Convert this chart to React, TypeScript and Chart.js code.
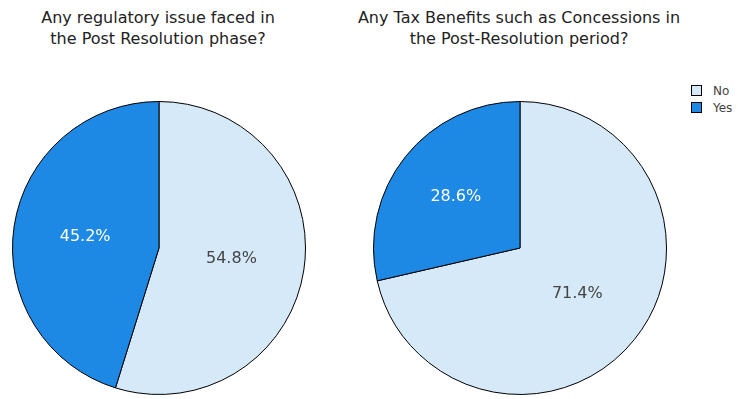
import React, { useEffect, useRef } from "react";
import { Chart, registerables } from "chart.js";

Chart.register(...registerables);

const categories = ["No", "Yes"];
const regulatoryValues = [54.8, 45.2];
const taxValues = [71.4, 28.6];
const titleRegulatory = ["Any regulatory issue faced in", "the Post Resolution phase?"];
const titleTax = ["Any Tax Benefits such as Concessions in", "the Post-Resolution period?"];

const sliceColors = ["#d6e9f8", "#1e88e5"];
const labelColors = ["#444444", "#ffffff"];
const FONT = "'DejaVu Sans', Verdana, sans-serif";

const percentLabels = {
  id: "percentLabels",
  afterDatasetsDraw(chart: any, _args: any, opts: any) {
    const ctx = chart.ctx;
    const meta = chart.getDatasetMeta(0);
    const data = chart.data.datasets[0].data as number[];
    const total = data.reduce((a, b) => a + b, 0);
    const factors: number[] = opts.factors || [];
    ctx.save();
    ctx.font = `16px ${FONT}`;
    ctx.textAlign = "center";
    ctx.textBaseline = "middle";
    meta.data.forEach((arc: any, i: number) => {
      const p = arc.getProps(["x", "y", "startAngle", "endAngle", "outerRadius"], true);
      const mid = (p.startAngle + p.endAngle) / 2;
      const r = p.outerRadius * (factors[i] ?? 0.5);
      const x = p.x + Math.cos(mid) * r;
      const y = p.y + Math.sin(mid) * r;
      ctx.fillStyle = labelColors[i];
      ctx.fillText(((data[i] / total) * 100).toFixed(1) + "%", x, y);
    });
    ctx.restore();
  },
};

function PieChart(props: { values: number[]; factors: number[]; left: number }) {
  const ref = useRef<HTMLCanvasElement | null>(null);
  useEffect(() => {
    if (!ref.current) return;
    const chart = new Chart(ref.current, {
      type: "pie",
      data: {
        labels: categories,
        datasets: [
          {
            data: props.values,
            backgroundColor: sliceColors,
            borderColor: "#000000",
            borderWidth: 1,
          },
        ],
      },
      options: {
        responsive: false,
        animation: false,
        layout: { padding: 2 },
        plugins: {
          legend: { display: false },
          tooltip: { enabled: false },
          percentLabels: { factors: props.factors },
        } as any,
      },
      plugins: [percentLabels],
    });
    return () => chart.destroy();
  }, []);
  return (
    <canvas
      ref={ref}
      width={298}
      height={298}
      style={{ position: "absolute", left: props.left, top: 99, width: 298, height: 298 }}
    />
  );
}

function Title(props: { lines: string[]; center: number }) {
  return (
    <div
      style={{
        position: "absolute",
        left: props.center - 200,
        width: 400,
        top: 7,
        textAlign: "center",
        fontFamily: FONT,
        fontSize: 16,
        lineHeight: "21px",
        color: "#222",
        whiteSpace: "nowrap",
      }}
    >
      {props.lines.map((l, i) => (
        <div key={i}>{l}</div>
      ))}
    </div>
  );
}

export default function App() {
  return (
    <div
      style={{
        position: "fixed",
        left: 0,
        top: 0,
        width: 738,
        height: 399,
        background: "#fff",
        overflow: "hidden",
      }}
    >
      <Title lines={titleRegulatory} center={158} />
      <Title lines={titleTax} center={519} />
      <PieChart values={regulatoryValues} factors={[0.5, 0.51]} left={10} />
      <PieChart values={taxValues} factors={[0.5, 0.56]} left={371} />
      <div style={{ position: "absolute", left: 691, top: 82, fontFamily: FONT, fontSize: 12, color: "#444" }}>
        {categories.map((c, i) => (
          <div key={c} style={{ display: "flex", alignItems: "center", height: 17 }}>
            <span
              style={{
                display: "inline-block",
                width: 9,
                height: 9,
                background: sliceColors[i],
                border: "1px solid #000",
                marginRight: 11,
              }}
            />
            <span>{c}</span>
          </div>
        ))}
      </div>
    </div>
  );
}
